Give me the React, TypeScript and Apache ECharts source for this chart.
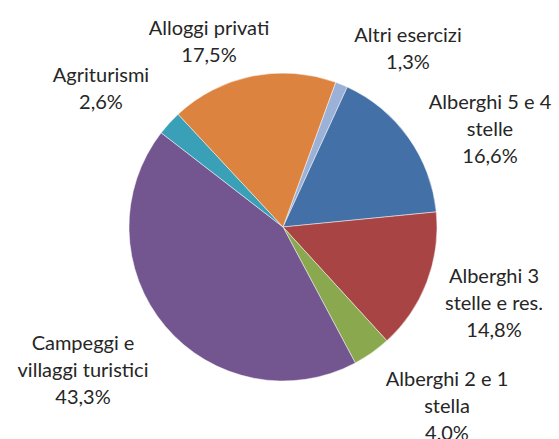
import React, { useEffect, useRef } from "react";
import * as echarts from "echarts";

const categories = [
  "Altri esercizi",
  "Alberghi 5 e 4\nstelle",
  "Alberghi 3\nstelle e res.",
  "Alberghi 2 e 1\nstella",
  "Campeggi e\nvillaggi turistici",
  "Agriturismi",
  "Alloggi privati",
];
const values = [1.3, 16.6, 14.8, 4.0, 43.3, 2.6, 17.5];
const colors = ["#9cb1d8", "#4470a8", "#a84444", "#8aa84e", "#73558f", "#3aa0b8", "#dd8340"];

// label block centres (layout only)
const labelPos: [number, number][] = [
  [408, 47],
  [490, 128],
  [494, 302],
  [447, 405],
  [83, 369],
  [101, 87],
  [209, 40],
];

export default function App() {
  const ref = useRef<HTMLDivElement>(null);
  useEffect(() => {
    if (!ref.current) return;
    const chart = echarts.init(ref.current, null, { renderer: "svg" });
    chart.setOption({
      animation: false,
      backgroundColor: "#ffffff",
      series: [
        {
          type: "pie",
          center: [283, 227],
          radius: 154,
          startAngle: 70,
          clockwise: true,
          avoidLabelOverlap: false,
          data: categories.map((name, i) => ({
            name,
            value: values[i],
            itemStyle: { color: colors[i] },
          })),
          itemStyle: { borderColor: "rgba(255,255,255,0.6)", borderWidth: 0.8 },
          label: {
            show: true,
            position: "outside",
            formatter: (p: any) => `${p.name}\n${values[p.dataIndex].toFixed(1).replace(".", ",")}%`,
            fontFamily: "Lato",
            fontSize: 20,
            lineHeight: 27,
            color: "#262626",
            align: "center",
          },
          labelLine: { show: false },
          labelLayout: (params: any) => {
            const pos = labelPos[params.dataIndex];
            return { x: pos[0], y: pos[1], align: "center", verticalAlign: "middle" };
          },
          emphasis: { disabled: true },
        },
      ],
    });
    return () => chart.dispose();
  }, []);
  return (
    <div
      ref={ref}
      style={{ position: "fixed", left: 0, top: 0, width: 559, height: 439 }}
    />
  );
}
